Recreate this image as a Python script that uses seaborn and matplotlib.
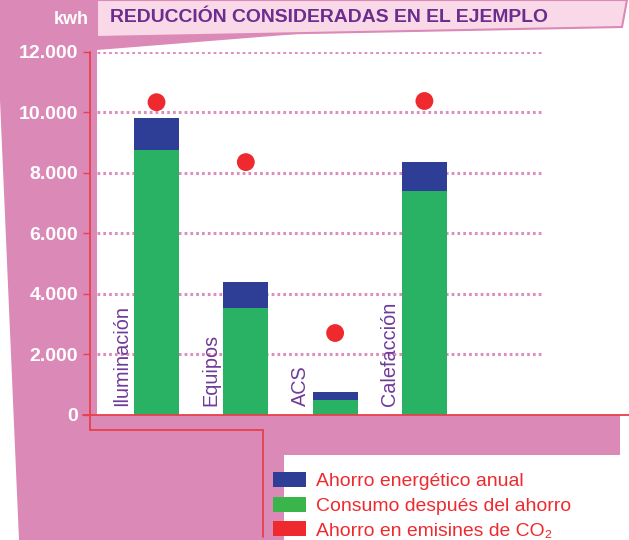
import numpy as np
import pandas as pd
import matplotlib
matplotlib.use("Agg")
import matplotlib.pyplot as plt
import seaborn as sns
from matplotlib.patches import Polygon, Patch
from matplotlib.lines import Line2D
from matplotlib import font_manager as fm

# ---------------- data ----------------
categories = ["Iluminación", "Equipos", "ACS", "Calefacción"]
ahorro_total = [9800, 4380, 750, 8350]      # top of blue segment (consumo + ahorro)
consumo_despues = [8750, 3530, 480, 7400]   # green segment
emisiones_co2 = [10330, 8350, 2700, 10370]  # red dots
y_ticks = [0, 2000, 4000, 6000, 8000, 10000, 12000]
y_tick_labels = ["0", "2.000", "4.000", "6.000", "8.000", "10.000", "12.000"]
legend_labels = ["Ahorro energético anual", "Consumo después del ahorro",
                 "Ahorro en emisines de CO₂"]
title = "REDUCCIÓN CONSIDERADAS EN EL EJEMPLO"
unit = "kwh"

# ---------------- style ----------------
PINK = "#db89b7"
GRID_PINK = "#dc8fbd"
LIGHT_PINK = "#f9d9e7"
PURPLE = "#6b2d8e"
LABEL_PURPLE = "#6f3b98"
RED = "#ee2a2f"
RED_LINE = "#e8404a"
BLUE = "#2e3e96"
GREEN = "#29b263"
GREEN_LEG = "#39b54a"

sns.set_theme(style="white")
names = {f.name for f in fm.fontManager.ttflist}
if "Liberation Sans Narrow" in names:
    NARROW, nscale = "Liberation Sans Narrow", 1.0
else:
    NARROW, nscale = "Liberation Sans", 0.82
plt.rcParams["font.family"] = [NARROW, "DejaVu Sans"]

W, H = 629, 540
fig = plt.figure(figsize=(W / 100, H / 100), dpi=100)
fig.patch.set_facecolor("white")


def P(x, y):
    return (x / W, 1 - y / H)


# background decoration (pink frame)
frame = [(0, 0), (627, 0), (622, 27), (310, 33), (97, 50), (97, 415),
         (620, 415), (620, 455), (284, 455), (284, 540), (19, 540), (0, 100)]
fig.add_artist(Polygon([P(*p) for p in frame], closed=True, facecolor=PINK,
                       edgecolor="none", transform=fig.transFigure, zorder=-3))
banner = [(97, 0), (627, 0), (622, 27), (97, 37)]
fig.add_artist(Polygon([P(*p) for p in banner], closed=True, facecolor=LIGHT_PINK,
                       edgecolor=PINK, linewidth=1.5, transform=fig.transFigure,
                       zorder=-2))

# red frame lines
for xs, ys in [([90, 90], [52, 430]), ([90, 263], [430, 430]),
               ([263, 263], [430, 537]), ([83, 629], [415, 415])]:
    fig.add_artist(Line2D([x / W for x in xs], [1 - y / H for y in ys],
                          color=RED_LINE, linewidth=1.3,
                          transform=fig.transFigure, zorder=5))

# ---------------- axes ----------------
y0, y12 = 414.7, 51.7
ax = fig.add_axes([90 / W, 1 - y0 / H, (543 - 90) / W, (y0 - y12) / H])
ax.patch.set_alpha(0)

df = pd.DataFrame({"cat": categories, "total": ahorro_total,
                   "consumo": consumo_despues, "co2": emisiones_co2})

sns.barplot(data=df, x="cat", y="total", color=BLUE, saturation=1, width=0.505,
            linewidth=0, edgecolor="none", ax=ax, zorder=2)
sns.barplot(data=df, x="cat", y="consumo", color=GREEN, saturation=1, width=0.505,
            linewidth=0, edgecolor="none", ax=ax, zorder=3)
sns.scatterplot(x=np.arange(len(categories)), y=df["co2"], color=RED, s=165,
                edgecolor="none", ax=ax, zorder=4)

ax.set_xlim(-0.745, 4.328)
ax.set_ylim(0, 12000)
for t in y_ticks[1:]:
    ax.axhline(t, xmin=7 / 453, xmax=1, color=GRID_PINK, linewidth=2.2,
               linestyle=(0, (0.9, 1.0)), zorder=1)

ax.set_xticks([])
ax.set_yticks(y_ticks, y_tick_labels)
ax.tick_params(axis="y", length=5, width=1.0, color=RED_LINE, pad=3.5,
               labelcolor="white", left=True, direction="out")
for lab in ax.get_yticklabels():
    lab.set_fontfamily(["Liberation Sans", "DejaVu Sans"])
    lab.set_fontweight("bold")
    lab.set_fontsize(14)
for s in ax.spines.values():
    s.set_visible(False)
ax.set_xlabel("")
ax.set_ylabel("")

for i, c in enumerate(categories):
    ax.text(i - 0.39, 290, c, rotation=90, ha="center", va="bottom",
            color=LABEL_PURPLE, fontsize=17.5 * nscale,
            family=[NARROW, "DejaVu Sans"])

# ---------------- titles ----------------
fig.text(89 / W, 1 - 19 / H, unit, ha="right", va="center", color="white",
         fontsize=13, fontweight="bold", family=["Liberation Sans", "DejaVu Sans"])
fig.text(110 / W, 1 - 18 / H, title, ha="left", va="center", color=PURPLE,
         fontsize=17 * nscale, fontweight="bold", family=[NARROW, "DejaVu Sans"])

# ---------------- legend ----------------
fs = 17 * nscale
fs_px = fs * 100 / 72
handles = [Patch(facecolor=BLUE, edgecolor="none"),
           Patch(facecolor=GREEN_LEG, edgecolor="none"),
           Patch(facecolor=RED, edgecolor="none")]
fig.legend(handles, legend_labels, loc="upper left",
           bbox_to_anchor=P(273, 472), frameon=False, borderpad=0,
           borderaxespad=0, handlelength=33 / fs_px, handleheight=16 / fs_px,
           handletextpad=10 / fs_px, labelspacing=0.33, labelcolor=RED,
           prop={"family": [NARROW, "DejaVu Sans"], "size": fs})

fig.savefig("out.png", dpi=100)
